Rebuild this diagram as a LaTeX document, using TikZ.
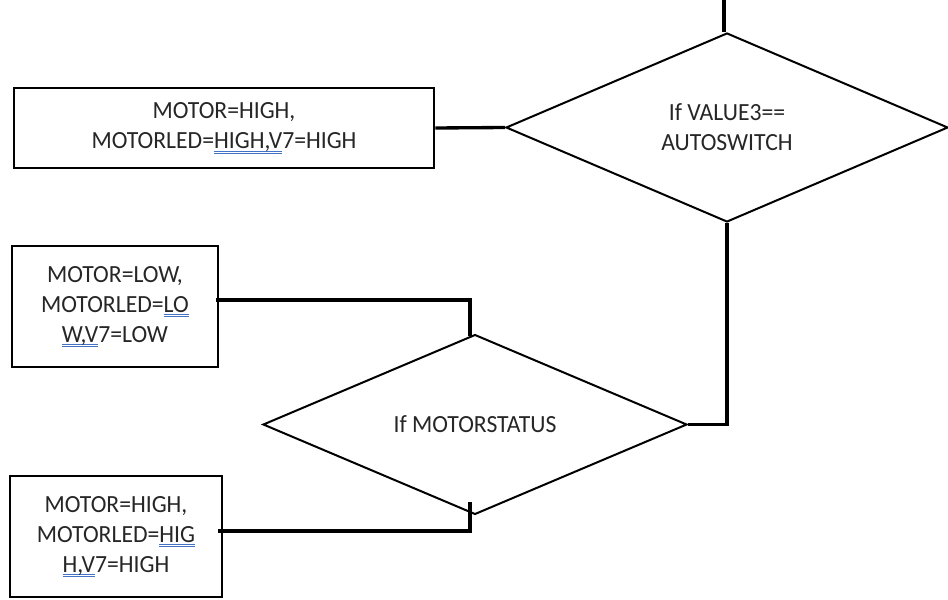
\documentclass[tikz,border=0pt]{standalone}
\usepackage{fontspec}
\setmainfont{Carlito}[FakeStretch=0.96]
\usetikzlibrary{shapes.geometric}
\definecolor{spellblue}{RGB}{68,114,196}
\definecolor{inktext}{RGB}{38,38,38}
\newsavebox\spellbox
\newcommand\spell[1]{\sbox\spellbox{#1}\rlap{\color{spellblue}\rule[-1.9pt]{\wd\spellbox}{0.5pt}}\rlap{\color{spellblue}\rule[-3.3pt]{\wd\spellbox}{0.5pt}}\usebox\spellbox}

\tikzset{every picture/.style={line width=0.75pt},
	procbox/.style={draw, line width=2pt, align=center, inner sep=0pt, text=inktext, font=\fontsize{18.5}{22.5}\selectfont},
	decision/.style={draw, diamond, line width=1.5pt, inner sep=0pt, align=center, text=inktext, font=\fontsize{18.5}{22.5}\selectfont},
	flowline/.style={line width=2.5pt}}

\begin{document}
\begin{tikzpicture}[x=0.75pt,y=0.75pt,yscale=-1,xscale=1]
		\useasboundingbox (0,0) rectangle (948,599);

		%Shape: Diamond [decision 1]
		\node[decision, minimum width=442*0.75pt, minimum height=189*0.75pt] (dec1) at (727,127.5) {If VALUE3==\\AUTOSWITCH};
		%Shape: Diamond [decision 2]
		\node[decision, minimum width=424*0.75pt, minimum height=165*0.75pt] (dec2) at (475,424.5) {If MOTORSTATUS};

		%Shape: Rectangle [motor on]
		\node[procbox, minimum width=420*0.75pt, minimum height=80*0.75pt] (boxon) at (224,128) {MOTOR=HIGH,\\MOTORLED=\spell{HIGH,V}7=HIGH};
		%Shape: Rectangle [motor low]
		\node[procbox, minimum width=206*0.75pt, minimum height=121*0.75pt] (boxlow) at (115,306.5) {MOTOR=LOW,\\MOTORLED=\spell{LO}\\\spell{W,V}7=LOW};
		%Shape: Rectangle [motor high]
		\node[procbox, minimum width=212*0.75pt, minimum height=121*0.75pt] (boxhigh) at (116,536.5) {MOTOR=HIGH,\\MOTORLED=\spell{HIG}\\\spell{H,V}7=HIGH};

		\coordinate (entry) at (724,0);
		\coordinate (jlow) at (470,336);
		\coordinate (jhigh) at (470,502);

		%Straight Lines
		\draw[flowline] (entry) -- (entry |- dec1.north);
		\draw[flowline] (boxon.east) -- (dec1.west);
		\draw[flowline] (dec1.south) |- (dec2.east);
		\draw[flowline] (boxlow.east) ++(-3,-6.5) -| (jlow);
		\draw[flowline] (boxhigh.east) ++(-5,-5.5) -| (jhigh);

\end{tikzpicture}
\end{document}
